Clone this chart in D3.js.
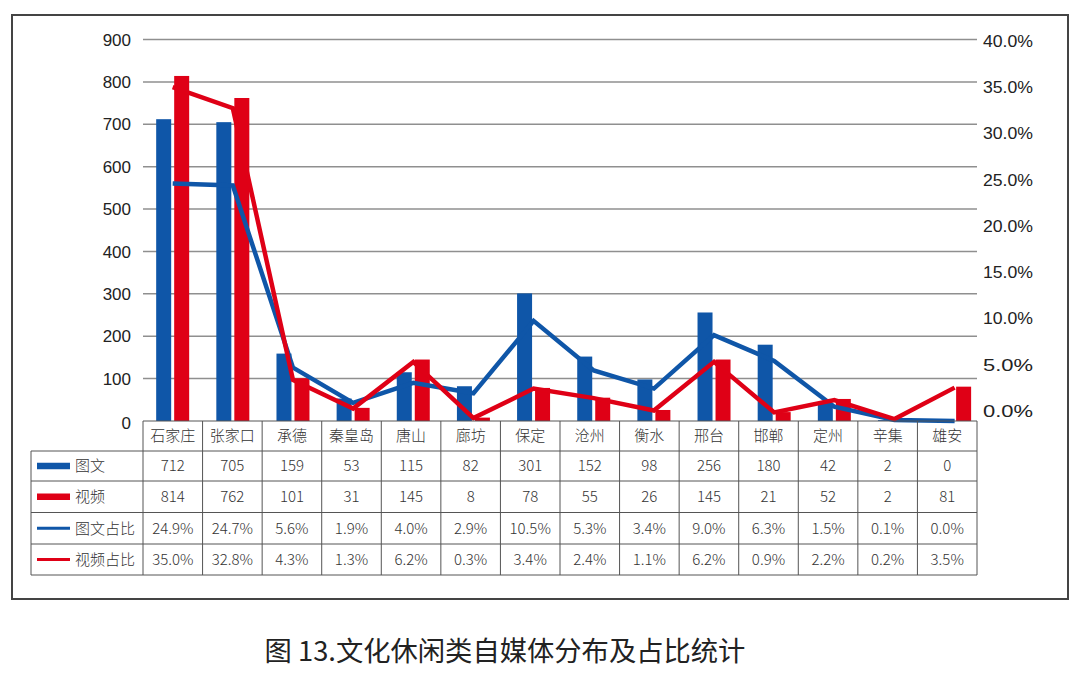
<!DOCTYPE html>
<html><head><meta charset="utf-8">
<script src="https://cdn.jsdelivr.net/npm/d3@7"></script>
<style>
html,body{margin:0;padding:0;background:#fff;}
svg{display:block;}
</style></head>
<body>
<svg id="chart" width="1080" height="685"></svg>
<script>
const categories = ["石家庄","张家口","承德","秦皇岛","唐山","廊坊","保定","沧州","衡水","邢台","邯郸","定州","辛集","雄安"];
const tuwen = [712,705,159,53,115,82,301,152,98,256,180,42,2,0];
const shipin = [814,762,101,31,145,8,78,55,26,145,21,52,2,81];
const tuwenPct = [24.9,24.7,5.6,1.9,4.0,2.9,10.5,5.3,3.4,9.0,6.3,1.5,0.1,0.0];
const shipinPct = [35.0,32.8,4.3,1.3,6.2,0.3,3.4,2.4,1.1,6.2,0.9,2.2,0.2,3.5];
const leftTicks = [0,100,200,300,400,500,600,700,800,900];
const rightTicks = [0,5,10,15,20,25,30,35,40];
const seriesNames = ["图文","视频","图文占比","视频占比"];
const title = "图 13.文化休闲类自媒体分布及占比统计";

const BLUE = "#0f56a8", RED = "#df0016";
const svg = d3.select("#chart");
const latin = "'Liberation Sans', Arial, sans-serif";
const cjk = "'Noto Sans CJK SC', 'Noto Sans', sans-serif";

// frame
svg.append("rect").attr("x",12).attr("y",15).attr("width",1056).attr("height",584)
  .attr("fill","none").attr("stroke","#444").attr("stroke-width",2);

// table columns
const x = d3.scaleBand().domain(categories).range([143,977]).padding(0);
// plot categories (bars/lines)
const xp = d3.scaleBand().domain(categories).range([142.6,984.7]).padding(0);
const y = d3.scaleLinear().domain([0,900]).range([421,39.5]);
const yR = d3.scaleLinear().domain([0,40]).range([421,39.5]);
const yRLabel = d3.scaleLinear().domain([0,40]).range([411,40.5]);

// grid
svg.append("g").selectAll("line").data(leftTicks.filter(d=>d>0)).join("line")
  .attr("x1",143).attr("x2",977).attr("y1",d=>y(d)).attr("y2",d=>y(d))
  .attr("stroke","#8f8f8f").attr("stroke-width",1.5);

// left labels
svg.append("g").selectAll("text").data(leftTicks).join("text")
  .attr("x",131).attr("y",d=>y(d)+ (d===0?2:0)).attr("dy","0.36em").attr("text-anchor","end")
  .attr("font-family",latin).attr("font-size",17).attr("fill","#222").text(d=>d);

// right labels
svg.append("g").selectAll("text").data(rightTicks).join("text")
  .attr("x",1033).attr("y",d=>yRLabel(d)).attr("dy","0.36em").attr("text-anchor","end")
  .attr("font-family",latin).attr("font-size",17).attr("fill","#222")
  .attr("textLength",50).attr("lengthAdjust","spacingAndGlyphs")
  .text(d=>d.toFixed(1)+"%");

// bars
const cx = d => x(d) + x.bandwidth()/2;
const px = d => xp(d) + xp.bandwidth()/2;
svg.append("g").selectAll("rect").data(categories).join("rect")
  .attr("x",(d)=>px(d)-16.5).attr("width",15)
  .attr("y",(d,i)=>y(tuwen[i])).attr("height",(d,i)=>y(0)-y(tuwen[i]))
  .attr("fill",BLUE);
svg.append("g").selectAll("rect").data(categories).join("rect")
  .attr("x",(d)=>px(d)+1.5).attr("width",15)
  .attr("y",(d,i)=>y(shipin[i])).attr("height",(d,i)=>y(0)-y(shipin[i]))
  .attr("fill",RED);

// lines
const line = d3.line().x(d=>d[0]).y(d=>d[1]);
svg.append("path").datum(categories.map((c,i)=>[px(c),yR(tuwenPct[i])]))
  .attr("d",line).attr("fill","none").attr("stroke",BLUE).attr("stroke-width",4.5).attr("stroke-linejoin","miter");
svg.append("path").datum(categories.map((c,i)=>[px(c),yR(shipinPct[i])]))
  .attr("d",line).attr("fill","none").attr("stroke",RED).attr("stroke-width",4.5).attr("stroke-linejoin","miter");

// table
const rowY = [421,451,481,512.5,544,575];
const tbl = svg.append("g");
const bc = "#555";
tbl.append("line").attr("x1",143).attr("x2",977).attr("y1",rowY[0]).attr("y2",rowY[0]).attr("stroke",bc).attr("stroke-width",1);
for(let r=1;r<rowY.length;r++){
  tbl.append("line").attr("x1",31).attr("x2",977).attr("y1",rowY[r]).attr("y2",rowY[r]).attr("stroke",bc).attr("stroke-width",1);
}
tbl.append("line").attr("x1",31).attr("x2",31).attr("y1",rowY[1]).attr("y2",rowY[5]).attr("stroke",bc);
const bounds = categories.map(c=>x(c)).concat([x.range()[1]]);
tbl.selectAll(".vb").data(bounds).join("line").attr("class","vb")
  .attr("x1",d=>d).attr("x2",d=>d).attr("y1",rowY[0]).attr("y2",rowY[5]).attr("stroke",bc);

const rows = [categories, tuwen, shipin, tuwenPct.map(v=>v.toFixed(1)+"%"), shipinPct.map(v=>v.toFixed(1)+"%")];
rows.forEach((row,r)=>{
  tbl.append("g").selectAll("text").data(row).join("text")
    .attr("x",(d,i)=>cx(categories[i])).attr("y",(rowY[r]+rowY[r+1])/2).attr("dy","0.36em")
    .attr("text-anchor","middle").attr("font-family",cjk).attr("font-weight",300)
    .attr("font-size",15).attr("fill","#333").text(d=>d);
});

// legend column
const legColors = [BLUE,RED,BLUE,RED];
const legH = [6.5,6.5,3,3];
seriesNames.forEach((s,k)=>{
  const cy = (rowY[k+1]+rowY[k+2])/2;
  tbl.append("rect").attr("x",37).attr("width",33).attr("y",cy-legH[k]/2).attr("height",legH[k]).attr("fill",legColors[k]);
  tbl.append("text").attr("x",75).attr("y",cy).attr("dy","0.36em")
    .attr("font-family",cjk).attr("font-weight",300).attr("font-size",15).attr("fill","#333").text(s);
});

// title
svg.append("text").attr("x",505).attr("y",661).attr("text-anchor","middle")
  .attr("font-family",cjk).attr("font-size",27.3).attr("fill","#222").text(title);
</script>
</body></html>
